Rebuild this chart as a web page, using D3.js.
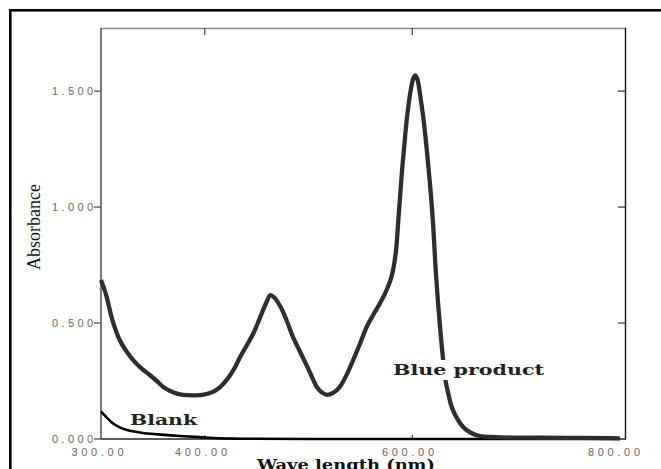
<!DOCTYPE html>
<html>
<head>
<meta charset="utf-8">
<script src="https://cdn.jsdelivr.net/npm/d3@7/dist/d3.min.js"></script>
<style>
  html, body { margin: 0; padding: 0; background: #fff; }
  svg { display: block; }
</style>
</head>
<body>
<svg id="chart" width="661" height="469"></svg>
<script>
// Blue product spectrum (wavelength nm, absorbance)
const blueWl = [300, 305, 311, 318, 325, 331, 340, 347, 355, 360, 370, 379, 390, 398, 408, 415, 421, 428, 434, 440,
  447, 455, 460, 463, 467, 473, 479, 485, 492, 499, 504, 508, 513, 518, 524, 530, 536, 543, 550, 556,
  563, 569, 575, 580, 584, 587, 590, 593, 595, 598, 601, 603, 605, 608, 610.5, 613, 615, 618, 620, 623,
  627, 630, 632, 635, 638, 643, 649, 656, 665, 680, 700, 750, 790, 800];
const blueAbs = [0.685, 0.62, 0.513, 0.427, 0.375, 0.34, 0.3, 0.276, 0.245, 0.224, 0.2, 0.19, 0.188, 0.19, 0.203, 0.225, 0.254, 0.3, 0.353, 0.4,
  0.457, 0.543, 0.595, 0.62, 0.61, 0.57, 0.51, 0.44, 0.375, 0.31, 0.26, 0.224, 0.2, 0.19, 0.2, 0.224, 0.27, 0.34, 0.415, 0.483,
  0.54, 0.586, 0.64, 0.7, 0.8, 0.97, 1.15, 1.3, 1.39, 1.49, 1.555, 1.568, 1.55, 1.47, 1.39, 1.29, 1.2, 1.05, 0.93, 0.7,
  0.47, 0.33, 0.254, 0.19, 0.138, 0.09, 0.052, 0.028, 0.013, 0.008, 0.006, 0.005, 0.004, 0.003];

// Blank spectrum
const blankWl = [300, 305, 311, 318, 325, 332, 340, 355, 376, 395, 408, 425, 437, 500, 650, 800];
const blankAbs = [0.118, 0.095, 0.069, 0.05, 0.039, 0.032, 0.026, 0.02, 0.013, 0.008, 0.004, 0.002, 0.001, 0, 0, 0];

const yTicks = [0, 0.5, 1.0, 1.5];
const yTickLabels = ["0.000", "0.500", "1.000", "1.500"];
const xTicks = [300, 400, 600, 800];
const xTickLabels = ["300.00", "400.00", "600.00", "800.00"];

const svg = d3.select("#chart");

const x = d3.scaleLinear().domain([300, 805.5]).range([101, 625.5]);
const y = d3.scaleLinear().domain([0, 1.772]).range([439, 28]);

// outer frame (runs off the bottom/right of the picture)
svg.append("rect")
  .attr("x", 10.3).attr("y", 10.3)
  .attr("width", 700).attr("height", 500)
  .attr("fill", "none").attr("stroke", "#000").attr("stroke-width", 2.6);

// plot box
svg.append("line").attr("x1", x(300)).attr("x2", 625.5).attr("y1", 28.5).attr("y2", 28.5)
  .attr("stroke", "#888").attr("stroke-width", 1.4);
svg.append("line").attr("x1", 101).attr("x2", 101).attr("y1", 28).attr("y2", 439)
  .attr("stroke", "#444").attr("stroke-width", 1.4);
svg.append("line").attr("x1", 625.5).attr("x2", 625.5).attr("y1", 28).attr("y2", 439.5)
  .attr("stroke", "#111").attr("stroke-width", 1.4);
svg.append("line").attr("x1", 101).attr("x2", 626).attr("y1", 439).attr("y2", 439)
  .attr("stroke", "#222").attr("stroke-width", 1.4);

const labelFont = "'Liberation Sans', Arial, sans-serif";

// left axis ticks and labels
svg.selectAll(".ytick").data(yTicks).enter().append("line")
  .attr("x1", 94).attr("x2", 101)
  .attr("y1", d => y(d)).attr("y2", d => y(d))
  .attr("stroke", "#444").attr("stroke-width", 1.2);
svg.selectAll(".ytickR").data(yTicks.slice(1)).enter().append("line")
  .attr("x1", 618).attr("x2", 625.5)
  .attr("y1", d => y(d)).attr("y2", d => y(d))
  .attr("stroke", "#333").attr("stroke-width", 1.2);
svg.selectAll(".ylab").data(yTicks).enter().append("text")
  .attr("x", 93).attr("y", d => y(d) + 4)
  .attr("text-anchor", "end")
  .attr("font-family", labelFont).attr("font-size", 11)
  .attr("fill", "#666")
  .attr("textLength", 41).attr("lengthAdjust", "spacing")
  .text((d, i) => yTickLabels[i]);

// top and bottom ticks
svg.selectAll(".xtickT").data([400, 600]).enter().append("line")
  .attr("x1", d => x(d)).attr("x2", d => x(d))
  .attr("y1", 28).attr("y2", 35)
  .attr("stroke", "#444").attr("stroke-width", 1.2);
svg.selectAll(".xtickB").data([400, 600]).enter().append("line")
  .attr("x1", d => x(d)).attr("x2", d => x(d))
  .attr("y1", 439).attr("y2", 435)
  .attr("stroke", "#444").attr("stroke-width", 1.2);
svg.selectAll(".xlab").data(xTicks).enter().append("text")
  .attr("x", (d, i) => [97.5, 201, 408, 614][i])
  .attr("y", 456)
  .attr("text-anchor", "middle")
  .attr("font-family", labelFont).attr("font-size", 11)
  .attr("fill", "#666")
  .attr("textLength", 52).attr("lengthAdjust", "spacing")
  .text((d, i) => xTickLabels[i]);

// curves
const lineGen = d3.line()
  .x(d => x(d[0]))
  .y(d => y(d[1]))
  .curve(d3.curveCatmullRom.alpha(0.5));

svg.append("path")
  .datum(blankWl.map((w, i) => [w, blankAbs[i]]))
  .attr("fill", "none").attr("stroke", "#000").attr("stroke-width", 2.6)
  .attr("d", lineGen);

svg.append("path")
  .datum(blueWl.map((w, i) => [w, blueAbs[i]]))
  .attr("fill", "none").attr("stroke", "#2e2e2e").attr("stroke-width", 4.3)
  .attr("stroke-linejoin", "round")
  .attr("d", lineGen);

const serif = "'DejaVu Serif', 'Liberation Serif', serif";

// Blue product label with white background
svg.append("rect").attr("x", 390).attr("y", 360).attr("width", 158).attr("height", 20).attr("fill", "#fff");
svg.append("text")
  .attr("x", 393).attr("y", 375)
  .attr("font-family", serif).attr("font-weight", "bold").attr("font-size", 14)
  .attr("fill", "#222")
  .attr("textLength", 151).attr("lengthAdjust", "spacingAndGlyphs")
  .text("Blue product");

svg.append("text")
  .attr("x", 130).attr("y", 425)
  .attr("font-family", serif).attr("font-weight", "bold").attr("font-size", 15)
  .attr("fill", "#222")
  .attr("textLength", 67).attr("lengthAdjust", "spacingAndGlyphs")
  .text("Blank");

// axis titles
svg.append("text")
  .attr("transform", "translate(40,227) rotate(-90)")
  .attr("text-anchor", "middle")
  .attr("font-family", "'Liberation Serif', 'Times New Roman', serif")
  .attr("font-size", 18)
  .attr("fill", "#111")
  .attr("textLength", 86).attr("lengthAdjust", "spacingAndGlyphs")
  .text("Absorbance");

svg.append("text")
  .attr("x", 257).attr("y", 470)
  .attr("font-family", serif).attr("font-weight", "bold").attr("font-size", 14.5)
  .attr("fill", "#111")
  .attr("textLength", 178).attr("lengthAdjust", "spacingAndGlyphs")
  .text("Wave length (nm)");
</script>
</body>
</html>
